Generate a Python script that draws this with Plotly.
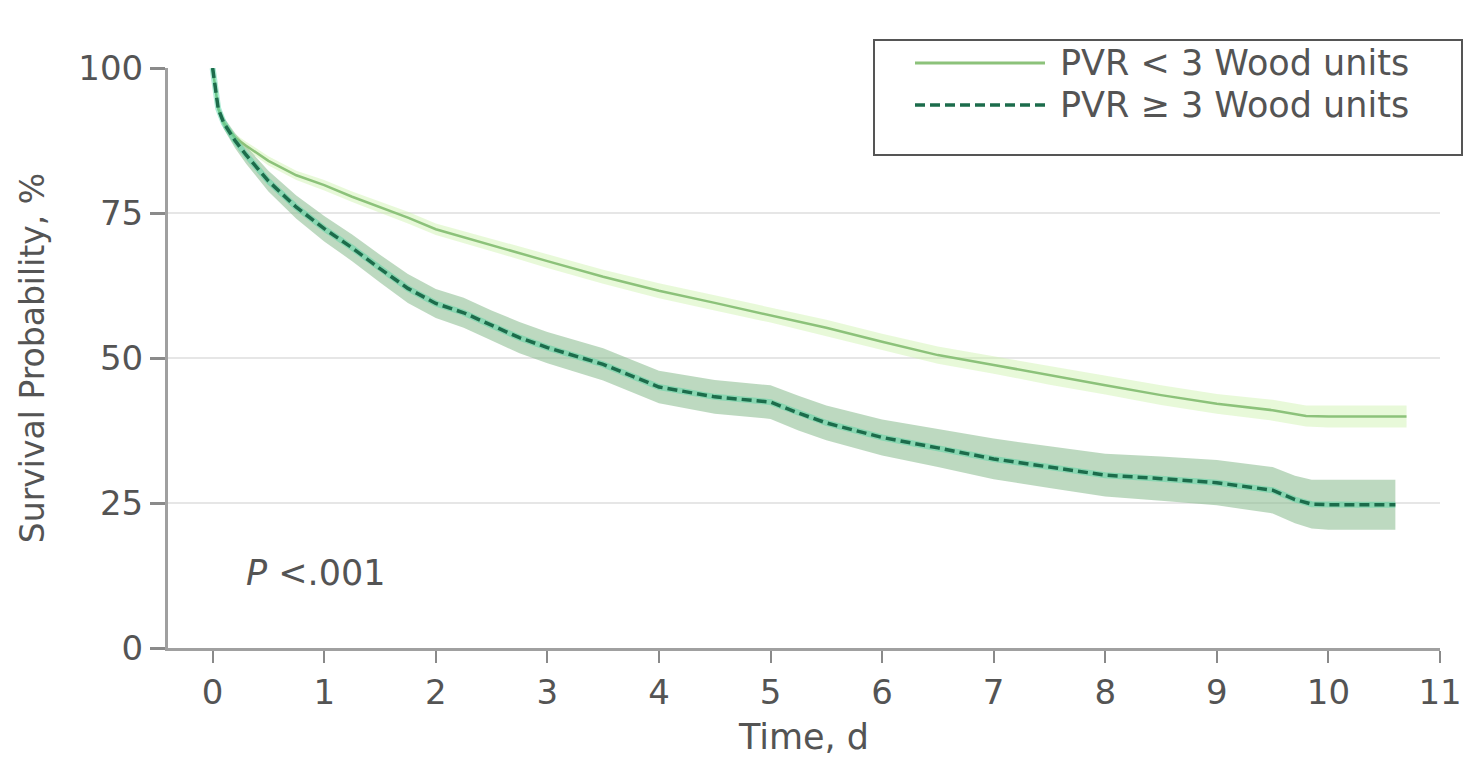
import plotly.graph_objects as go

# ---- data ----
t_low = [0, 0.05, 0.1, 0.2, 0.3, 0.5, 0.75, 1, 1.25, 1.5, 1.75, 2, 2.25, 2.5, 2.75, 3,
         3.5, 4, 4.5, 5, 5.5, 6, 6.5, 7, 7.5, 8, 8.5, 9, 9.5, 9.8, 10, 10.3, 10.7]
s_low = [100, 93, 90.5, 88, 86.6, 84, 81.5, 79.8, 77.8, 76, 74.2, 72.2, 70.8, 69.5, 68.1, 66.7,
         64, 61.6, 59.5, 57.4, 55.2, 52.8, 50.5, 48.8, 47, 45.3, 43.6, 42.1, 41, 40, 39.9, 39.9, 39.9]
ci_low = [0, 0.4, 0.5, 0.6, 0.7, 0.8, 0.8, 0.9, 0.9, 1.0, 1.0, 1.0, 1.1, 1.1, 1.1, 1.2,
          1.2, 1.3, 1.3, 1.3, 1.4, 1.4, 1.5, 1.5, 1.6, 1.6, 1.7, 1.7, 1.8, 1.8, 1.9, 1.9, 1.9]

t_high = [0, 0.05, 0.1, 0.2, 0.3, 0.5, 0.75, 1, 1.25, 1.5, 1.75, 2, 2.25, 2.5, 2.75, 3,
          3.5, 4, 4.5, 5, 5.25, 5.5, 6, 6.5, 7, 7.5, 8, 8.5, 9, 9.5, 9.7, 9.85, 10, 10.3, 10.6]
s_high = [100, 93, 90.5, 87.5, 85, 80.5, 76, 72.3, 69, 65.4, 62, 59.4, 57.8, 55.6, 53.5, 51.8,
          48.9, 45, 43.3, 42.4, 40.5, 38.8, 36.3, 34.5, 32.6, 31.2, 29.8, 29.2, 28.5, 27.2, 25.6, 24.8, 24.7, 24.7, 24.7]
ci_high = [0, 0.8, 1.0, 1.3, 1.5, 1.8, 2.0, 2.2, 2.3, 2.4, 2.5, 2.5, 2.6, 2.6, 2.7, 2.7,
           2.8, 2.8, 2.9, 2.9, 3.0, 3.0, 3.1, 3.3, 3.5, 3.6, 3.7, 3.8, 3.9, 4.0, 4.1, 4.2, 4.3, 4.3, 4.3]

x_ticks = [0, 1, 2, 3, 4, 5, 6, 7, 8, 9, 10, 11]
y_ticks = [0, 25, 50, 75, 100]
labels = ["PVR < 3 Wood units", "PVR \u2265 3 Wood units"]
p_text = "<i>P</i> <.001"

FONT = "DejaVu Sans"
TXT = "#545454"
C_LOW = "#8cc27a"
C_HIGH = "#1c6c4b"

fig = go.Figure()

def band(t, s, ci, color):
    up = [a + b for a, b in zip(s, ci)]
    lo = [a - b for a, b in zip(s, ci)]
    return go.Scatter(x=t + t[::-1], y=up + lo[::-1], fill="toself", fillcolor=color,
                      line=dict(width=0), mode="lines", hoverinfo="skip", showlegend=False)

fig.add_trace(band(t_low, s_low, ci_low, "rgba(205,242,170,0.45)"))
fig.add_trace(band(t_high, s_high, ci_high, "rgba(135,185,140,0.55)"))

fig.add_trace(go.Scatter(x=t_low, y=s_low, mode="lines", name=labels[0],
                         line=dict(color=C_LOW, width=2.5), showlegend=False))
fig.add_trace(go.Scatter(x=t_high, y=s_high, mode="lines", hoverinfo="skip",
                         line=dict(color="rgba(70,210,160,0.45)", width=6), showlegend=False))
fig.add_trace(go.Scatter(x=t_high, y=s_high, mode="lines", name=labels[1],
                         line=dict(color=C_HIGH, width=3.5, dash="10px,5px"), showlegend=False))

# P value annotation
fig.add_annotation(x=0.28, y=13, xref="x", yref="y", text=p_text, showarrow=False,
                   xanchor="left", yanchor="middle", font=dict(family=FONT, size=35, color=TXT))

# custom legend (paper coords)
def px2x(px):
    return (px - 168) / 1272
def py2y(py):
    return (648 - py) / 580

fig.add_shape(type="rect", xref="paper", yref="paper",
              x0=px2x(874), x1=px2x(1462), y0=py2y(155), y1=py2y(40),
              line=dict(color="#555555", width=2), fillcolor="white", layer="above")
fig.add_shape(type="line", xref="paper", yref="paper",
              x0=px2x(915), x1=px2x(1045), y0=py2y(63), y1=py2y(63),
              line=dict(color=C_LOW, width=3), layer="above")
fig.add_shape(type="line", xref="paper", yref="paper",
              x0=px2x(915), x1=px2x(1045), y0=py2y(105), y1=py2y(105),
              line=dict(color=C_HIGH, width=3.5, dash="10px,5px"), layer="above")
for lab, py in zip(labels, [63, 105]):
    fig.add_annotation(x=px2x(1058), y=py2y(py), xref="paper", yref="paper", text=lab,
                       showarrow=False, xanchor="left", yanchor="middle",
                       font=dict(family=FONT, size=35, color=TXT))

fig.update_layout(
    width=1479, height=764,
    margin=dict(l=168, r=39, t=68, b=116),
    paper_bgcolor="white", plot_bgcolor="white",
    font=dict(family=FONT, size=34, color=TXT),
    showlegend=False,
)
fig.update_xaxes(range=[-0.4, 11], tickvals=x_ticks, ticktext=[str(v) for v in x_ticks],
                 showgrid=False, zeroline=False, showline=True, linecolor="#a0a0a0", linewidth=3,
                 ticks="outside", ticklen=12, tickwidth=2, tickcolor="#8a8a8a",
                 tickfont=dict(family=FONT, size=34, color=TXT),
                 title=dict(text="Time, d", font=dict(family=FONT, size=35, color=TXT), standoff=14))
fig.update_yaxes(range=[0, 100], tickvals=y_ticks, ticktext=[str(v) for v in y_ticks],
                 showgrid=True, gridcolor="#e6e6e6", gridwidth=2, zeroline=False,
                 showline=True, linecolor="#a0a0a0", linewidth=3,
                 ticks="outside", ticklen=15, tickwidth=3, tickcolor="#8a8a8a",
                 tickfont=dict(family=FONT, size=34, color=TXT),
                 title=dict(text="Survival Probability, %", font=dict(family=FONT, size=33, color=TXT), standoff=24))

fig.write_html("out.html")
